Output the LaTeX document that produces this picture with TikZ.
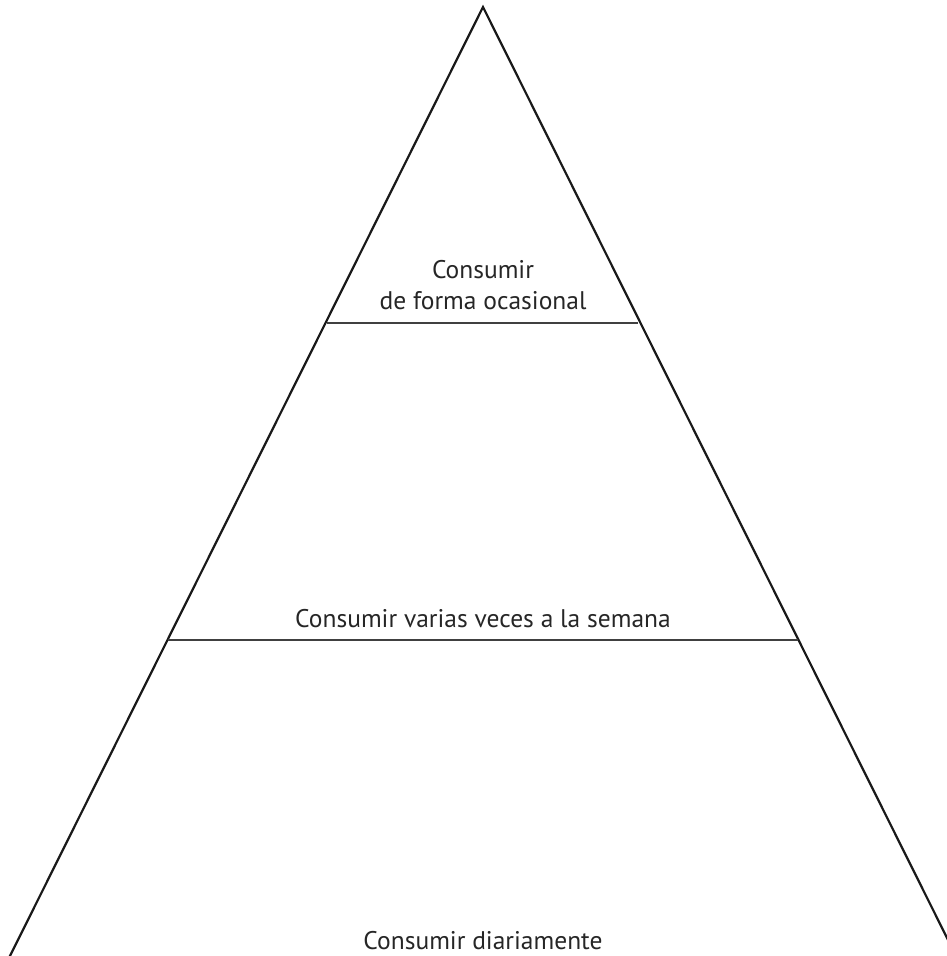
\documentclass[tikz,border=0pt]{standalone}
\usepackage{fontspec}
\setmainfont{PT Sans}
\begin{document}
\begin{tikzpicture}[x=1pt,y=-1pt,
  edge/.style={line width=2.2pt,black!90},
  tier/.style={line width=1.2pt,black!75},
  lbl/.style={font=\fontsize{25.5}{31}\selectfont,align=center,text=black!85,inner sep=0pt}]
\useasboundingbox (0,0) rectangle (947,956);
\clip (0,0) rectangle (947,956);
\coordinate (apex) at (483,7);
\coordinate (bl) at (-2,980);
\coordinate (br) at (968,980);
\coordinate (l1) at (327,323);
\coordinate (r1) at (638,323);
\coordinate (l2) at (168,640);
\coordinate (r2) at (798,640);
\draw[edge] (bl) -- (apex) -- (br);
\draw[tier] (l1) -- (r1);
\draw[tier] (l2) -- (r2);
\node[lbl] (top) at (483,285) {Consumir\\de forma ocasional};
\node[lbl] (mid) at (483,619) {Consumir varias veces a la semana};
\node[lbl] (bot) at (483,941) {Consumir diariamente};
\end{tikzpicture}
\end{document}
